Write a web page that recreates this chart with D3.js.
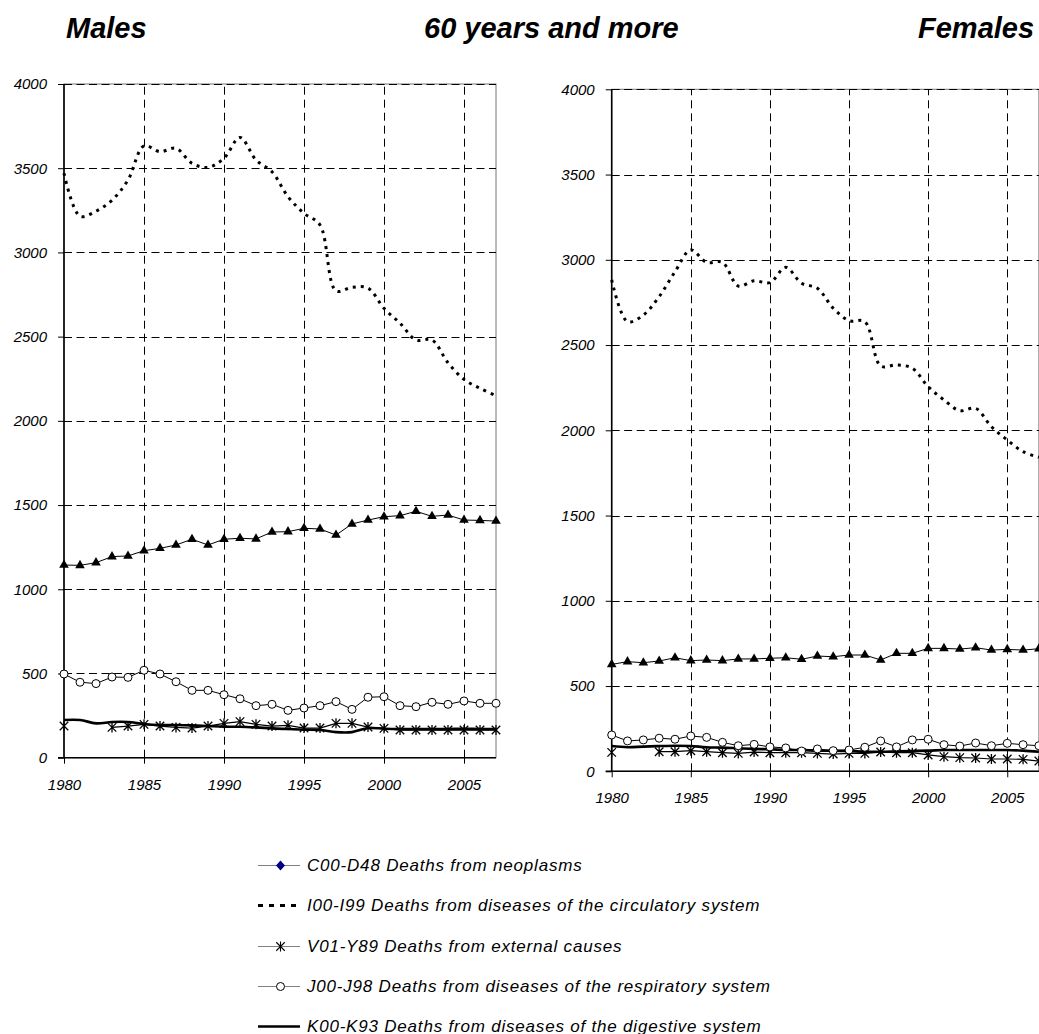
<!DOCTYPE html>
<html>
<head>
<meta charset="utf-8">
<script src="https://cdn.jsdelivr.net/npm/d3@7"></script>
<style>
  html, body { margin: 0; padding: 0; background: #fff; }
  svg { display: block; }
  text { font-family: "Liberation Sans", Arial, Helvetica, sans-serif; }
</style>
</head>
<body>
<svg id="chart" width="1039" height="1034"></svg>
<script>
// Deaths per 100 000, population aged 60 and over, 1980–2007
const years = [1980, 1981, 1982, 1983, 1984, 1985, 1986, 1987, 1988, 1989,
               1990, 1991, 1992, 1993, 1994, 1995, 1996, 1997, 1998, 1999,
               2000, 2001, 2002, 2003, 2004, 2005, 2006, 2007];

const yTicks = [0, 500, 1000, 1500, 2000, 2500, 3000, 3500, 4000];
const xTicks = [1980, 1985, 1990, 1995, 2000, 2005];

const titles = ["Males", "60 years and more", "Females"];

// Males
const maleNeoplasms = [1144, 1142, 1158, 1194, 1198, 1229, 1243, 1263, 1297, 1263,
                       1297, 1303, 1299, 1340, 1342, 1362, 1358, 1322, 1388, 1411,
                       1431, 1437, 1463, 1433, 1441, 1411, 1409, 1405];
const maleCirculatory = [3470, 3215, 3245, 3310, 3430, 3632, 3598, 3618, 3529, 3505,
                         3559, 3683, 3549, 3479, 3331, 3232, 3163, 2772, 2793, 2788,
                         2668, 2580, 2480, 2480, 2345, 2246, 2193, 2150];
const maleExternal = [188, null, null, 180, 188, 198, 188, 180, 176, 188,
                      204, 214, 198, 188, 192, 176, 176, 204, 204, 182,
                      174, 164, 164, 164, 164, 164, 164, 164];
const maleRespiratory = [497, 448, 440, 479, 477, 519, 497, 451, 400, 400,
                         374, 350, 309, 317, 281, 295, 309, 333, 287, 359,
                         362, 309, 303, 329, 317, 337, 323, 323];
const maleDigestive = [224, 224, 204, 212, 212, 200, 194, 194, 192, 188,
                       184, 184, 180, 174, 170, 166, 164, 152, 152, 176,
                       172, 170, 170, 170, 170, 172, 170, 170];

// Females
const femaleNeoplasms = [627, 643, 637, 647, 666, 649, 653, 649, 659, 659,
                         663, 666, 657, 676, 672, 682, 682, 653, 692, 692,
                         721, 721, 717, 725, 711, 715, 711, 719];
const femaleCirculatory = [2882, 2637, 2676, 2784, 2930, 3058, 2985, 2985, 2846, 2877,
                           2866, 2956, 2862, 2833, 2716, 2643, 2637, 2377, 2383, 2364,
                           2256, 2178, 2115, 2129, 2021, 1943, 1875, 1842];
const femaleExternal = [111, null, null, 115, 115, 121, 115, 109, 105, 113,
                        109, 109, 109, 105, 101, 105, 105, 113, 109, 109,
                        96, 86, 80, 78, 72, 72, 70, 60];
const femaleRespiratory = [213, 178, 184, 194, 188, 207, 199, 170, 150, 158,
                           143, 137, 119, 131, 121, 125, 141, 178, 143, 184,
                           188, 156, 148, 166, 150, 164, 156, 150];
const femaleDigestive = [148, 141, 145, 148, 150, 148, 141, 139, 135, 131,
                         129, 125, 125, 121, 121, 119, 115, 115, 117, 119,
                         121, 125, 125, 125, 125, 125, 121, 115];

const legendLabels = [
  "C00-D48 Deaths from neoplasms",
  "I00-I99 Deaths from diseases of the circulatory system",
  "V01-Y89 Deaths from external causes",
  "J00-J98 Deaths from diseases of the respiratory system",
  "K00-K93 Deaths from diseases of the digestive system"
];

const svg = d3.select("#chart");

// Titles
const titleX = [66, 424, 918];
svg.selectAll("text.title").data(titles).join("text")
  .attr("class", "title")
  .attr("x", (d, i) => titleX[i])
  .attr("y", 38)
  .attr("font-size", 29)
  .attr("font-weight", "bold")
  .attr("font-style", "italic")
  .attr("fill", "#000")
  .text(d => d);

// Asterisk marker path (X plus vertical stroke)
function starPath(r) {
  const k = r * 0.85;
  return `M${-k},${-k}L${k},${k}M${-k},${k}L${k},${-k}M0,${-r}L0,${r}`;
}

function drawPanel(cfg) {
  const x = d3.scaleLinear().domain([1980, 2007]).range([cfg.left, cfg.right]);
  const y = d3.scaleLinear().domain([0, 4000]).range([cfg.bottom, cfg.top]);
  const g = svg.append("g");

  // plot frame (light)
  g.append("rect")
    .attr("x", cfg.left).attr("y", cfg.top)
    .attr("width", cfg.right - cfg.left).attr("height", cfg.bottom - cfg.top)
    .attr("fill", "none").attr("stroke", "#777").attr("stroke-width", 1);

  // dashed grid
  g.append("g").selectAll("line").data(yTicks.filter(v => v > 0)).join("line")
    .attr("x1", cfg.left).attr("x2", cfg.right)
    .attr("y1", d => Math.round(y(d)) + 0.5).attr("y2", d => Math.round(y(d)) + 0.5)
    .attr("stroke", "#000").attr("stroke-width", 1).attr("stroke-dasharray", "8,4.5");
  g.append("g").selectAll("line").data(xTicks.filter(v => v > 1980)).join("line")
    .attr("x1", d => Math.round(x(d)) + 0.5).attr("x2", d => Math.round(x(d)) + 0.5)
    .attr("y1", cfg.bottom).attr("y2", cfg.top)
    .attr("stroke", "#000").attr("stroke-width", 1).attr("stroke-dasharray", "8,5");

  // axes
  const yAxis = d3.axisLeft(y).tickValues(yTicks).tickSize(6).tickPadding(11).tickFormat(d3.format("d"));
  const gy = g.append("g").attr("transform", `translate(${cfg.left},0)`).call(yAxis);
  const xAxis = d3.axisBottom(x).tickValues(xTicks).tickSize(6).tickPadding(15.5).tickFormat(d3.format("d"));
  const gx = g.append("g").attr("transform", `translate(0,${cfg.bottom})`).call(xAxis);
  [gx, gy].forEach(a => {
    a.select(".domain").attr("stroke", "#000").attr("stroke-width", 1.6);
    a.selectAll(".tick line").attr("stroke", "#000").attr("stroke-width", 1);
    a.selectAll(".tick text")
      .attr("font-size", 15).attr("font-style", "italic")
      .attr("font-family", "'Liberation Sans', Arial, sans-serif").attr("fill", "#000");
  });
  gx.select(".domain").attr("d", `M${cfg.left - 6},0H${cfg.right}`);
  gy.select(".domain").attr("d", `M0,${cfg.bottom}V${cfg.top}`);

  const pts = vals => years.map((yr, i) => ({ yr, v: vals[i] }));
  const straight = d3.line().defined(d => d.v != null).x(d => x(d.yr)).y(d => y(d.v));
  const smooth = d3.line().defined(d => d.v != null).x(d => x(d.yr)).y(d => y(d.v))
    .curve(d3.curveCatmullRom.alpha(0.5));

  // digestive system: heavy smoothed line
  g.append("path").datum(pts(cfg.digestive))
    .attr("d", smooth).attr("fill", "none").attr("stroke", "#000").attr("stroke-width", 2.6);

  // external causes: thin line with asterisks
  g.append("path").datum(pts(cfg.external))
    .attr("d", straight).attr("fill", "none").attr("stroke", "#000").attr("stroke-width", 1.2);
  g.append("g").selectAll("path").data(pts(cfg.external).filter(d => d.v != null)).join("path")
    .attr("transform", d => `translate(${x(d.yr)},${y(d.v)})`)
    .attr("d", starPath(5)).attr("fill", "none").attr("stroke", "#000").attr("stroke-width", 1.3);

  // respiratory system: open circles
  g.append("path").datum(pts(cfg.respiratory))
    .attr("d", straight).attr("fill", "none").attr("stroke", "#000").attr("stroke-width", 1);
  g.append("g").selectAll("circle").data(pts(cfg.respiratory)).join("circle")
    .attr("cx", d => x(d.yr)).attr("cy", d => y(d.v)).attr("r", 4)
    .attr("fill", "#fff").attr("stroke", "#000").attr("stroke-width", 1);

  // neoplasms: filled triangles
  g.append("path").datum(pts(cfg.neoplasms))
    .attr("d", straight).attr("fill", "none").attr("stroke", "#000").attr("stroke-width", 1);
  const tri = d3.symbol().type(d3.symbolTriangle).size(40);
  g.append("g").selectAll("path").data(pts(cfg.neoplasms)).join("path")
    .attr("transform", d => `translate(${x(d.yr)},${y(d.v)})`)
    .attr("d", tri).attr("fill", "#000");

  // circulatory system: heavy dotted smoothed line
  g.append("path").datum(pts(cfg.circulatory))
    .attr("d", smooth).attr("fill", "none").attr("stroke", "#000")
    .attr("stroke-width", 3).attr("stroke-dasharray", "3,5");
}

drawPanel({
  left: 64, right: 496, top: 84, bottom: 757.7,
  neoplasms: maleNeoplasms, circulatory: maleCirculatory, external: maleExternal,
  respiratory: maleRespiratory, digestive: maleDigestive
});
drawPanel({
  left: 611.7, right: 1038.9, top: 89.3, bottom: 771.3,
  neoplasms: femaleNeoplasms, circulatory: femaleCirculatory, external: femaleExternal,
  respiratory: femaleRespiratory, digestive: femaleDigestive
});

// Legend
const legendRowY = [865, 905, 946, 986, 1026];
const lg = svg.append("g");
const rows = lg.selectAll("g").data(legendLabels).join("g")
  .attr("transform", (d, i) => `translate(0,${legendRowY[i]})`);
rows.append("text")
  .attr("x", 307).attr("y", 6)
  .attr("font-size", 17).attr("font-style", "italic")
  .attr("letter-spacing", 0.8).attr("fill", "#000")
  .text(d => d);

rows.each(function (d, i) {
  const r = d3.select(this);
  if (i === 0 || i === 2 || i === 3) {
    r.append("line").attr("x1", 258).attr("x2", 300).attr("y1", 0.5).attr("y2", 0.5)
      .attr("stroke", "#808080").attr("stroke-width", 1);
  }
  if (i === 0) {
    r.append("path").attr("transform", "translate(280.5,0.5)")
      .attr("d", "M0,-5L4.5,0L0,5L-4.5,0Z").attr("fill", "#000080");
  } else if (i === 1) {
    r.append("line").attr("x1", 258).attr("x2", 301).attr("y1", 0.5).attr("y2", 0.5)
      .attr("stroke", "#000").attr("stroke-width", 3).attr("stroke-dasharray", "5,6");
  } else if (i === 2) {
    r.append("path").attr("transform", "translate(280.5,0.5)")
      .attr("d", starPath(5)).attr("fill", "none").attr("stroke", "#000").attr("stroke-width", 1.1);
  } else if (i === 3) {
    r.append("circle").attr("cx", 280.5).attr("cy", 0.5).attr("r", 4)
      .attr("fill", "#fff").attr("stroke", "#000").attr("stroke-width", 1);
  } else {
    r.append("line").attr("x1", 258).attr("x2", 300).attr("y1", 0.5).attr("y2", 0.5)
      .attr("stroke", "#000").attr("stroke-width", 2.6);
  }
});
</script>
</body>
</html>
